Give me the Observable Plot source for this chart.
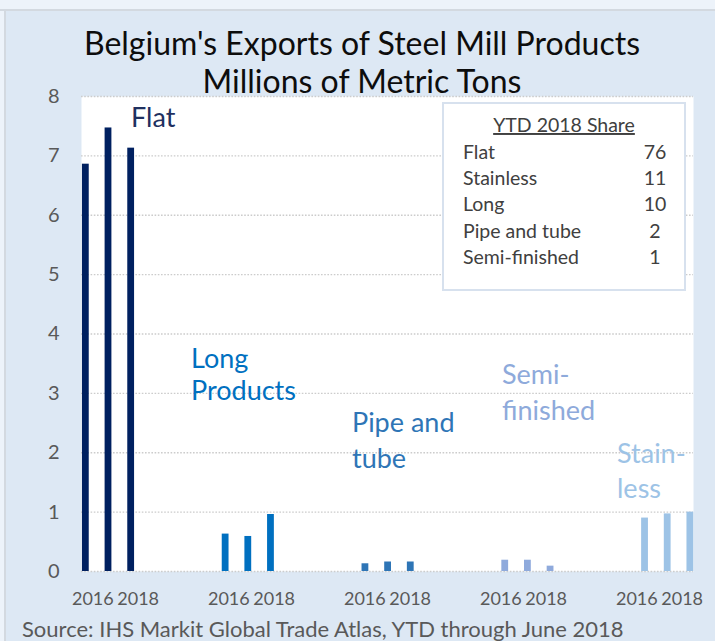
<!DOCTYPE html>
<html>
<head>
<meta charset="utf-8">
<script src="https://cdn.jsdelivr.net/npm/d3@7"></script>
<script src="https://cdn.jsdelivr.net/npm/@observablehq/plot@0.6"></script>
<style>
  html, body { margin: 0; padding: 0; background: #dde8f4; overflow: hidden; }
  #page { position: relative; width: 715px; height: 641px; background: #dde8f4; overflow: hidden; }
  #topstrip { position: absolute; left: 0; top: 0; width: 715px; height: 9px; background: #edf3fa; border-bottom: 2px solid #d3d9e0; }
  #leftstrip { position: absolute; left: 0; top: 11px; width: 4px; height: 630px; background: #edf3fa; border-right: 2px solid #d3d9e0; }
  #chart { position: absolute; left: 0; top: 0; }
</style>
</head>
<body>
<div id="page">
  <div id="topstrip"></div>
  <div id="leftstrip"></div>
  <div id="chart"></div>
</div>
<script>
// ---- data ----
const categories = ["Flat", "Long Products", "Pipe and tube", "Semi-finished", "Stainless"];
const years = ["2016", "2017", "2018"];
const flatValues = [6.86, 7.47, 7.13];
const longValues = [0.63, 0.59, 0.96];
const pipeValues = [0.13, 0.16, 0.16];
const semiValues = [0.19, 0.19, 0.09];
const stainlessValues = [0.90, 0.97, 1.00];
const yTickValues = [0, 1, 2, 3, 4, 5, 6, 7, 8];
const xTickYears = ["2016", "2018"];
const shareLabels = ["Flat", "Stainless", "Long", "Pipe and tube", "Semi-finished"];
const shareValues = [76, 11, 10, 2, 1];
const titleLines = ["Belgium's Exports of Steel Mill Products", "Millions of Metric Tons"];
const sourceText = "Source: IHS Markit Global Trade Atlas, YTD through June 2018";
const categoryLabels = [["Flat"], ["Long", "Products"], ["Pipe and", "tube"], ["Semi-", "finished"], ["Stain-", "less"]];

// ---- build table ----
const seriesValues = [flatValues, longValues, pipeValues, semiValues, stainlessValues];
const rows = categories.flatMap((c, i) => years.map((y, j) => ({cat: c, year: y, value: seriesValues[i][j], slot: c + "|" + y})));
// category slots: 3 years per category, 3 empty spacer slots between categories
const slots = categories.flatMap((c, i) => {
  const s = years.map(y => c + "|" + y);
  return i < categories.length - 1 ? s.concat(["gapA", "gapB", "gapC"].map(g => c + "|" + g)) : s;
});
const tickSlots = slots.filter(s => xTickYears.includes(s.split("|")[1]));

// ---- styles ----
const barColors = ["#002060", "#0070c0", "#2e75b6", "#8faadc", "#9dc3e6"];
const labelColors = ["#1f3060", "#0070c0", "#2e75b6", "#8eaadb", "#9dc3e6"];
const seriesShift = i => (i - 2) * 3.8 + 0.6; // clustered-series offset in px
const FONT = "Lato, 'Open Sans', sans-serif";

const W = 715, H = 641;
const chart = Plot.plot({
  width: W, height: H,
  marginTop: 96, marginBottom: 70, marginLeft: 81, marginRight: 22,
  style: {background: "transparent", fontFamily: FONT, fontSize: "18px", color: "#595959", overflow: "visible"},
  x: {type: "band", domain: slots, paddingInner: 0.7, paddingOuter: 0.35, round: false, axis: null},
  y: {domain: [0, 8], axis: null},
  marks: [
    Plot.frame({fill: "white", stroke: "none"}),
    Plot.gridY(yTickValues, {stroke: "#cccccc", strokeOpacity: 1, strokeWidth: 1.4, strokeDasharray: "1.6,1.6"}),
    ...categories.map((c, i) => Plot.barY(rows.filter(r => r.cat === c), {
      x: "slot", y: "value", fill: barColors[i],
      insetLeft: seriesShift(i), insetRight: -seriesShift(i)
    })),
    Plot.axisY(yTickValues, {tickSize: 0, tickPadding: 22, fontSize: 20, fill: "#595959", label: null, tickFormat: d => String(d)}),
    Plot.axisX(tickSlots, {tickSize: 0, tickPadding: 21, fontSize: 18, fill: "#595959", label: null, tickFormat: d => d.split("|")[1]})
  ]
});
document.getElementById("chart").appendChild(chart);

// ---- annotations appended to the same SVG ----
const svg = d3.select(chart);
const g = svg.append("g").attr("font-family", FONT).attr("text-anchor", "start");

// title
g.append("g").attr("text-anchor", "middle").selectAll("text").data(titleLines).join("text")
  .attr("x", 362).attr("y", (d, i) => 55 + i * 38)
  .attr("font-size", 32).attr("fill", "#0d0d0d").text(d => d);

// category annotations
const labelPos = [[131, 127], [191, 368], [352, 432], [502, 384], [617, 463]];
const labelGap = [0, 32, 36, 36, 35];
categoryLabels.forEach((lines, i) => {
  g.append("g").selectAll("text").data(lines).join("text")
    .attr("x", labelPos[i][0]).attr("y", (d, k) => labelPos[i][1] + k * labelGap[i])
    .attr("font-size", 27).attr("fill", labelColors[i]).text(d => d);
});

// share box
const box = g.append("g");
box.append("rect").attr("x", 443).attr("y", 103).attr("width", 242).attr("height", 187)
  .attr("fill", "white").attr("stroke", "#d7e1ee").attr("stroke-width", 2);
box.append("text").attr("x", 564).attr("y", 132).attr("text-anchor", "middle")
  .attr("font-size", 19.5).attr("fill", "#404040").attr("text-decoration", "underline").text("YTD 2018 Share");
box.selectAll("text.lab").data(shareLabels).join("text").attr("class", "lab")
  .attr("x", 463).attr("y", (d, i) => 159 + i * 26.2).attr("font-size", 19.5).attr("fill", "#404040").text(d => d);
box.selectAll("text.val").data(shareValues).join("text").attr("class", "val")
  .attr("x", 655).attr("y", (d, i) => 159 + i * 26.2).attr("text-anchor", "middle")
  .attr("font-size", 19.5).attr("fill", "#404040").text(d => d);

// source
g.append("text").attr("x", 22).attr("y", 637).attr("font-size", 22).attr("fill", "#595959").text(sourceText);
</script>
</body>
</html>
